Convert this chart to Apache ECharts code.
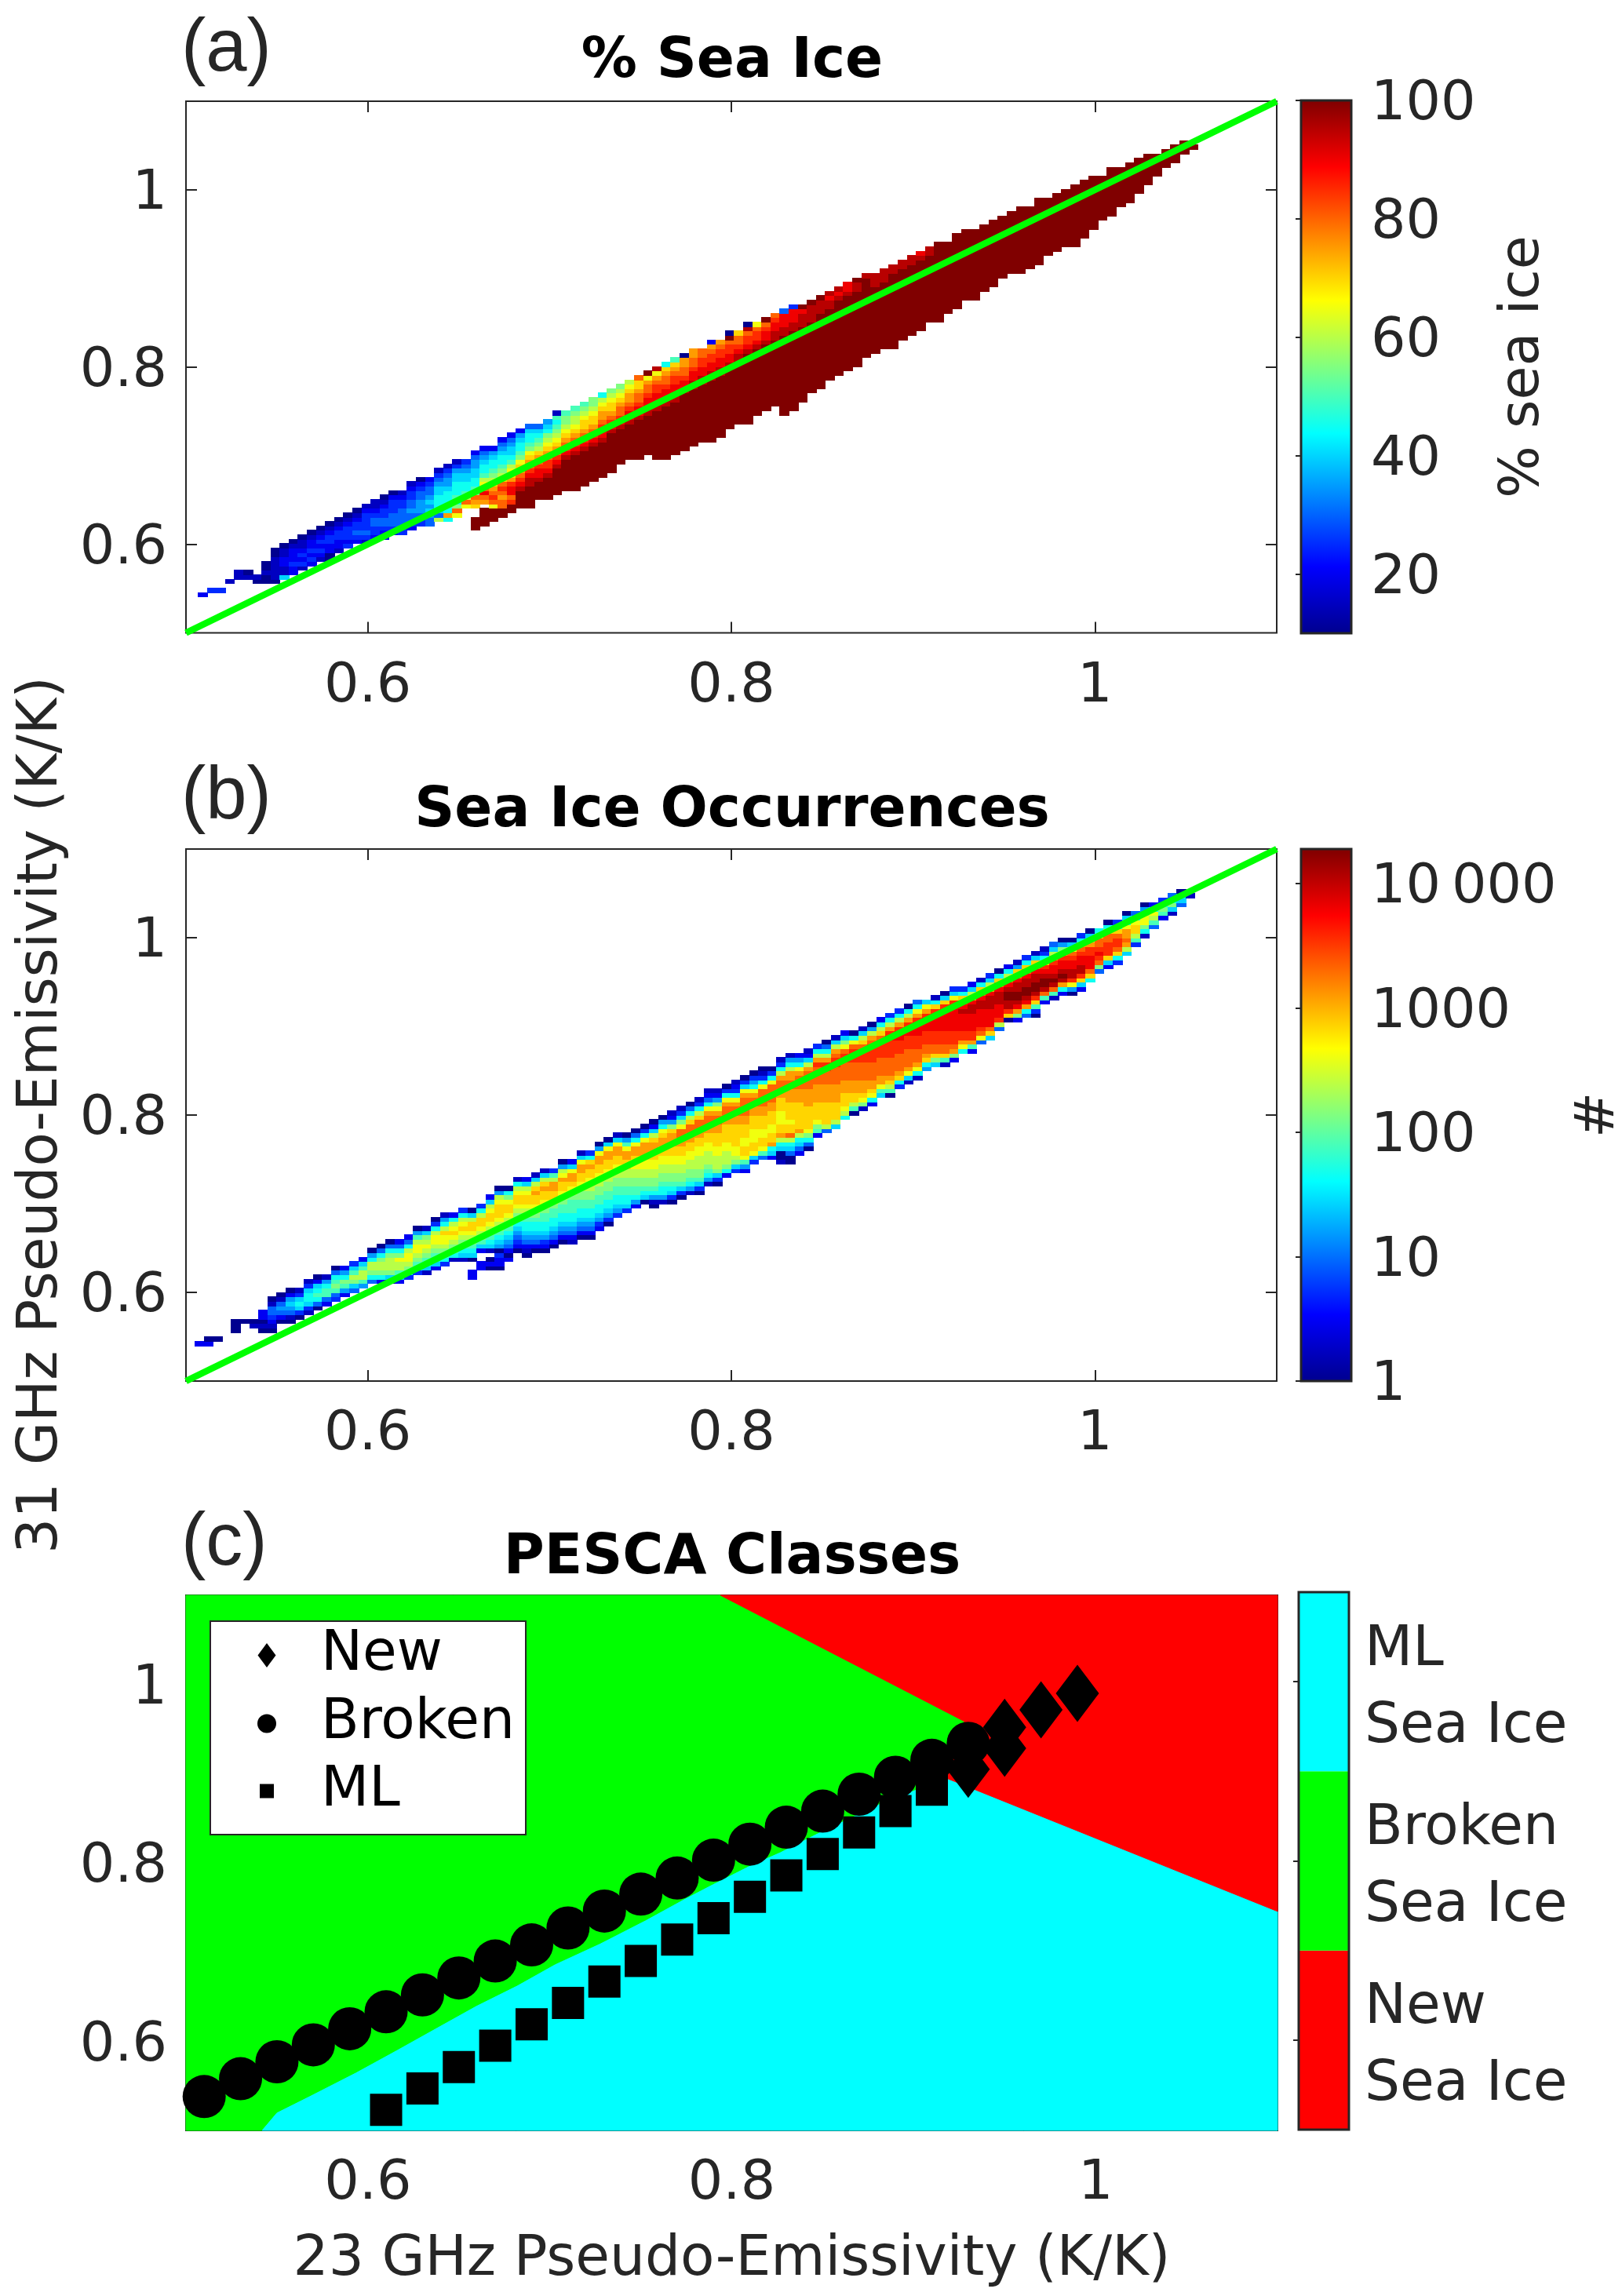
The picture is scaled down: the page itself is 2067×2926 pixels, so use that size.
<!DOCTYPE html>
<html><head><meta charset="utf-8">
<style>html,body{margin:0;padding:0;background:#fff}#chart{width:2067px;height:2926px}</style>
<script src="https://cdn.jsdelivr.net/npm/echarts@6/dist/echarts.min.js"></script>
</head><body><div id="chart"></div>
<script>
// Bin width of both 2-D histograms and their first bin edges
const binSize = 0.005;
const seaIceOrigin = [0.5067, 0.5406];
const occurOrigin = [0.5050, 0.5398];
const levelLetters = 'abcdefghijklmnopqrs';
// Panel (a): one entry per 23 GHz column: [first 31 GHz bin, colour level of each bin upward]
// letters a..s = 19 read colour levels of the colour bar; "." = empty; a number repeats the letter
const seaIceColumns = [
[0,"c"],[1,"d"],[1,"d"],[3,"b"],[4,"bb"],[4,"ba"],[3,"ab"],[3,"aabaa"],[3,"abbbbbaa"],[4,"gbbccbba"],
[5,"ccdcccba"],[6,"bdcdcbba"],[7,"cdcdccba"],[8,"bcdcdcba"],[8,"aaccddcba"],[10,"bccddcba"],[11,"dcdddcba"],[12,"cdeddcba"],[12,"bdeddddcb"],[13,"cddeedcbb"],
[13,"ccdeeddcba"],[14,"cdeeedddca"],[14,"ddeeeeddcb"],[15,"cdeefeeddcb"],[16,"ddefffeedca"],[16,"eefgfgfeedc"],[17,"keghhhggfedb"],[17,"hnhhhhhgffedb"],[18,"lojhihhhggfdb"],[20,"lokihhggfed"],
[15,"s3.2mnojihhggffec"],[16,"s4.noqolkihhgfec"],[17,"s3loponmkjihhgfc"],[18,"s2oonopomkjihhgfec"],[19,"s2poqqpnmlkihggfec"],[20,"s4rqponmljihhgfc"],[20,"s5rrqponmljihhge"],[22,"s4rqqponmkjihge"],[22,"s5rqpponmlkjhgf"],[23,"s6rqponmlkjihib"],
[24,"s7rqponmlkjji"],[24,"s8rqponmlkkji"],[25,"s8rqponmmlkji"],[26,"s8rqponmmlkjj"],[27,"s8rqqponnmlkh"],[28,"s9rqponmmlkj"],[30,"s8rqpoonmlkj"],[31,"s8rqqponnmlk"],[31,"s9rqqpoonmmo"],[32,"s9rrqqpoonls"],
[31,"s11rrqqpponlr"],[31,"s12rrqqpoonmh"],[32,"s12rrqqpponmi"],[33,"s13rqqpoonna"],[34,"s13rrqqpoonn"],[35,"s13rrqqppoo"],[35,"s14rrqqpponc"],[36,"s14rrqqppon"],[38,"s14rqqpposa"],[39,"s14rrqpoom"],
[39,"s16rqppora"],[41,"s15rqppol"],[42,"s15rqqpos"],[43,"s15rrqqpo"],[41,"s18rrqqqe"],[42,"s18rrqqqd"],[44,"s17rrrqs"],[46,"s16rrrrs"],[47,"s17rrrs"],[49,"s16rrqr"],
[50,"s17rqr"],[51,"s17rqq"],[52,"s17rrs"],[54,"s18r"],[55,"s15r3"],[56,"s15r3"],[56,"s17r2"],[58,"s16r2"],[59,"s16r2"],[60,"s16rq"],
[62,"s15r2"],[62,"s18"],[64,"s16"],[65,"s17"],[67,"s16"],[67,"s16"],[69,"s15"],[70,"s15"],[72,"s14"],[73,"s14"],
[73,"s15"],[74,"s14"],[75,"s15"],[77,"s13"],[78,"s13"],[79,"s13"],[79,"s14"],[81,"s13"],[83,"s12"],[85,"s10"],
[86,"s11"],[88,"s9"],[89,"s9"],[91,"s8"],[93,"s7"],[95,"s5"],[97,"s4"],[98,"s4"],[100,"s3"],[101,"s"]
];
// Panel (b): same layout, same 19 colour levels (on the log colour bar)
const occurColumns = [
[0,"c"],[0,"ca"],[1,"a"],[0,""],[3,"aaa"],[5,"a"],[4,"ba"],[3,"abacc"],[3,"abcdeeba"],[5,"acefeba"],
[5,"abefgfca"],[6,"adghgdb"],[7,"bdghhgdb"],[8,"aehihgca"],[9,"ceiihfb"],[10,"deijihea"],[11,"cfijhfc"],[12,"egjkigd"],[13,"fikkigc"],[14,"ehjkkhfa"],
[14,"chjkkjhea"],[14,"agjkkkjhea"],[14,"cgikkljhec"],[15,"dhjkllkhec"],[16,"dhijkllkifa"],[16,"bghijklkjgb"],[17,"cghijkllkhda"],[18,"dhijkllmkhfb"],[19,"bhijklmlkhc"],[19,"bghijklmlkhd"],
[15,"cc.2aghijklmmkga"],[17,"cc.2cgijklmmkhd"],[17,"aca.bghijklmmlkgc"],[17,"accdafghijklmmmlkfa"],[19,"cacefghijklmmljha"],[21,"acdefghijklmmlkhb"],[20,"abcefghhijklmmlkgc"],[21,"acefghhijklmmnmkgb"],[21,"acdfghhiijklmmnmkgb"],[22,"acefghhiijkmmnnkid"],
[23,"acefghhiijklmmnlkfa"],[23,"bcefghhiiijklmnnlgc"],[24,"acefghhiijjklmmnnlgb"],[24,"acefghhiijjkklmmnmhd"],[26,"cdfghhiijjkklmmnnlfa"],[27,"adfghhiijjkklmmnnlga"],[29,"dfghhiijjkklmmnnlgb"],[30,"dghhiijjkkmmnnlifa"],[31,"cfhiijjkkllmnnlhea"],[32,"aghijjkkllmnnnlhda"],
[31,"abfhijjkkllmmnnmkgca"],[32,"bfhhijjkkllmmnnmlhfa"],[32,"adghijjkkllmmnnnmjfcb"],[33,"adgijjkkllmmnnooljgdb"],[34,"bfhijjkkllmmnnoomkhea"],[34,"adgijjkkkllmmnnoomkhdb"],[36,"bfhijkkkllmmnnoonlhecb"],[36,"adgjkkkllmmmnnoonljfcb"],[38,"chjkkkllmmmmnnoonlhda"],[39,"dgjkllmmmmmnnoonlhdcb"],
[39,"cfilmmllmmmnnoooonlgda"],[41,"dglmmlllmmmnnoonlhfda"],[42,"eilmmllmmmnnoooolhdba"],[42,"cghnmmllmmmnnoooolhda"],[41,"baaghknmmlllmmmnnoonkhdb"],[41,"aaeghkommlmmmmnnnoonnkhfb"],[43,"ceghknmmmmmmnnnooonlhfc"],[44,"aehjlmmmmmnnnnoooonkgcb"],[47,"cijlmmmmnnnnoooopnkhd"],[48,"ekmmmmmnnnnoooppnkhea"],
[49,"gkmmmmnnnnoooopponkgb"],[51,"hklmmmnnnooooppoljgc"],[52,"aikmmnnnoooopppolha"],[53,"bjlmnnnoooopppomkgb"],[54,"chlmnnoooopppponkfa"],[56,"gilnnooooppppomkhc"],[56,"aikmnooooppppqpnkhd"],[58,"dhmnoooopppqqpnkhd"],[59,"bglnoooopppqqpnkha"],[60,"bhlnooopppqqqpnlhe"],
[62,"fhmnoopppqqqpnlg"],[63,"gjmoopppqqqqpmhb"],[63,"bimoopppqqqqqpmga"],[64,"cjnopppqqqqqqplgd"],[66,"hlnppqqqqrqpmhd"],[66,"cinppqqqqrrqnkgc"],[68,"elopqqqqrrqomhb"],[69,"gmoqqqqrrrqnkgd"],[71,"ekpqqqrrrqomha"],[73,"amprrssrqokhc"],
[73,"cjnqrssrrqomfb"],[74,"ehnqrssrrqomhd"],[74,"adimprssrrqomgb"],[77,"ciorssrqpmhdb"],[78,"biorsrqqpnkge"],[79,"chnrsrqqpnjfa"],[79,"aflprrqqpolga"],[80,"cgmprrqqponhd"],[82,"hmoqqqppnkga"],[84,"ejopqpoomh"],
[85,"cgmpppoomha"],[86,"dhmoppomhd"],[88,"gknonnlhga"],[90,"dikmmlhe"],[92,"bhjlljfa"],[94,"eiklhc"],[96,"cijhd"],[97,"bgjhe"],[99,"egha"],[101,"b"]
];
// Panel (c): class boundaries
const brokenMlEdge = [[0.5419,0.5],[0.55,0.5195],[0.5686,0.5385],[0.5935,0.5644],[0.6164,0.59],[0.6368,0.6132],[0.6595,0.639],[0.6822,0.662],[0.7029,0.6857],[0.7277,0.709],[0.7526,0.735],[0.7732,0.758],[0.7896,0.7754],[0.8103,0.7966],[0.8268,0.8115],[0.8474,0.8327],[0.8804,0.8647],[0.918,0.895]];
const brokenNewEdge = [[0.918,0.895],[0.928,0.9585],[0.7938,1.1]];
const newMlEdge = [[0.918,0.895],[1.1,0.7456]];
// Panel (c): class mean points
const newPoints = [[0.93,0.905],[0.95,0.9285],[0.95,0.952],[0.97,0.9716],[0.99,0.99]];
const brokenPoints = [[0.51,0.538],[0.53,0.558],[0.55,0.577],[0.57,0.596],[0.59,0.614],[0.61,0.633],[0.63,0.652],[0.65,0.671],[0.67,0.69],[0.69,0.708],[0.71,0.727],[0.73,0.746],[0.75,0.765],[0.77,0.783],[0.79,0.803],[0.81,0.821],[0.83,0.84],[0.85,0.858],[0.87,0.877],[0.89,0.896],[0.91,0.915],[0.93,0.934]];
const mlPoints = [[0.61,0.523],[0.63,0.547],[0.65,0.571],[0.67,0.595],[0.69,0.619],[0.71,0.643],[0.73,0.667],[0.75,0.69],[0.77,0.714],[0.79,0.738],[0.81,0.762],[0.83,0.786],[0.85,0.81],[0.87,0.834],[0.89,0.858],[0.91,0.882]];
const onetoone = [[0.5,0.5],[1.1,1.1]];
const axisTicks = [0.6,0.8,1];
const iceTicks = [20,40,60,80,100];
const countTicks = [1,10,100,1000,10000];
const countTickLabels = ['1','10','100','1000','10\u2009000'];
const classNames = ['New\nSea Ice','Broken\nSea Ice','ML\nSea Ice'];
const classColors = ['#ff0000','#00ff00','#00ffff'];
const iceRange = [10,100];
const countTop = 19000;
const jet = ['#00008f','#0000ff','#0080ff','#00ffff','#80ff80','#ffff00','#ff8000','#ff0000','#800000'];

const FONT='"DejaVu Sans"', TXT='#262626', FS=70;
const chart = echarts.init(document.getElementById('chart'), null, {renderer:'canvas'});

function decode(cols, origin, toValue){
  const out=[];
  cols.forEach((c,i)=>{
    let j=c[0];
    const re=/([a-s.])(\d*)/g; let m;
    while((m=re.exec(c[1]))){
      const n=m[2]?+m[2]:1;
      for(let k=0;k<n;k++,j++){
        if(m[1]!=='.') out.push([origin[0]+binSize*i, origin[1]+binSize*j, toValue(levelLetters.indexOf(m[1]))]);
      }
    }
  });
  return out;
}
const maxLog=Math.log10(countTop);
const seaIceCells=decode(seaIceColumns,seaIceOrigin,l=>iceRange[0]+l*(iceRange[1]-iceRange[0])/18);
const occurCells=decode(occurColumns,occurOrigin,l=>l*maxLog/18);

const cellItem=(params,api)=>{
  const x=api.value(0),y=api.value(1);
  const a=api.coord([x,y]),b=api.coord([x+binSize,y+binSize]);
  const X0=Math.floor(a[0]),X1=Math.ceil(b[0]),Y0=Math.floor(b[1]),Y1=Math.ceil(a[1]);
  return {type:'rect',shape:{x:X0,y:Y0,width:X1-X0,height:Y1-Y0},style:{fill:api.visual('color')}};
};
const polyItem=(pts,color)=>(params,api)=>{
  if(params.dataIndex!==0) return null;
  return {type:'polygon',shape:{points:pts.map(p=>api.coord(p))},style:{fill:color,stroke:color,lineWidth:1}};
};
const gradient=()=>new echarts.graphic.LinearGradient(0,1,0,0,jet.map((c,i)=>({offset:i/(jet.length-1),color:c})));
const barItem=(lo,hi)=>(params,api)=>{
  if(params.dataIndex!==0) return null;
  const a=api.coord([0,hi]),b=api.coord([1,lo]);
  return {type:'rect',shape:{x:a[0],y:a[1],width:b[0]-a[0],height:b[1]-a[1]},style:{fill:gradient()}};
};

const panels=[
 {left:237,top:129,width:1390,height:677.5},
 {left:237,top:1082,width:1390,height:678},
 {left:237,top:2033,width:1391,height:682}
];
const grid=panels.map(p=>({...p,show:true,backgroundColor:'transparent',borderColor:TXT,borderWidth:2,containLabel:false,outerBoundsMode:'none'}));
grid.push({left:1658,top:128,width:64,height:679,show:true,borderColor:TXT,borderWidth:3,z:5,outerBoundsMode:'none'});
grid.push({left:1658,top:1082,width:64,height:678,show:true,borderColor:TXT,borderWidth:3,z:5,outerBoundsMode:'none'});
grid.push({left:1655,top:2029,width:64,height:685,show:true,borderColor:TXT,borderWidth:3,z:5,outerBoundsMode:'none'});

const lab={fontFamily:FONT,fontSize:FS,color:TXT};
const labY={...lab,verticalAlign:'top',lineHeight:12};
const nameLab={fontFamily:FONT,fontSize:71,color:TXT};
const xAxis=[],yAxis=[];
const hx=i=>({gridIndex:i,type:'value',min:0,max:1,show:false});
[0,1,2].forEach(i=>{
  xAxis.push({gridIndex:i,type:'value',position:'bottom',min:0.5,max:1.1,axisLine:{show:false},splitLine:{show:false},
    axisTick:{show:true,inside:true,length:14,customValues:axisTicks,lineStyle:{color:TXT,width:2}},
    axisLabel:{show:true,customValues:axisTicks,margin:34,formatter:v=>String(v),...lab},
    ...(i===2?{name:'23 GHz Pseudo-Emissivity (K/K)',nameLocation:'middle',nameGap:130,nameTextStyle:nameLab}:{})});
});
[0,1,2].forEach(i=>{
  xAxis.push({gridIndex:i,type:'value',position:'top',min:0.5,max:1.1,axisLine:{show:false},splitLine:{show:false},
    axisTick:{show:true,inside:true,length:14,customValues:axisTicks,lineStyle:{color:TXT,width:2}},axisLabel:{show:false}});
});
[3,4,5].forEach(i=>xAxis.push(hx(i)));
[0,1,2].forEach(i=>{
  yAxis.push({gridIndex:i,type:'value',position:'left',min:0.5,max:1.1,axisLine:{show:false},splitLine:{show:false},
    axisTick:{show:true,inside:true,length:14,customValues:axisTicks,lineStyle:{color:TXT,width:2}},
    axisLabel:{show:true,customValues:axisTicks,margin:24,formatter:v=>String(v),...labY},
    ...(i===1?{name:'31 GHz Pseudo-Emissivity (K/K)',nameLocation:'middle',nameGap:148,nameRotate:90,nameTextStyle:nameLab}:{})});
});
[0,1,2].forEach(i=>{
  yAxis.push({gridIndex:i,type:'value',position:'right',min:0.5,max:1.1,axisLine:{show:false},splitLine:{show:false},
    axisTick:{show:true,inside:true,length:14,customValues:axisTicks,lineStyle:{color:TXT,width:2}},axisLabel:{show:false}});
});
const cbTick={show:true,inside:true,length:7,lineStyle:{color:TXT,width:2}};
const countLogs=countTicks.map(v=>Math.log10(v));
yAxis.push({gridIndex:3,type:'value',position:'right',min:iceRange[0],max:iceRange[1],z:6,axisLine:{show:false},splitLine:{show:false},
  axisTick:{...cbTick,customValues:iceTicks},axisLabel:{customValues:iceTicks,margin:25,formatter:v=>String(v),...labY},
  name:'% sea ice',nameLocation:'middle',nameGap:185,nameRotate:90,nameTextStyle:lab});
yAxis.push({gridIndex:4,type:'value',position:'right',min:0,max:maxLog,z:6,axisLine:{show:false},splitLine:{show:false},
  axisTick:{...cbTick,customValues:countLogs},axisLabel:{customValues:countLogs,margin:25,formatter:v=>countTickLabels[Math.round(v)],...labY},
  name:'#',nameLocation:'middle',nameGap:281,nameRotate:90,nameTextStyle:lab});
const classLabelAt=[0.46,1.46,2.46];
yAxis.push({gridIndex:5,type:'value',position:'right',min:0,max:3,z:6,axisLine:{show:false},splitLine:{show:false},
  axisTick:{...cbTick,customValues:[0.5,1.5,2.5]},axisLabel:{customValues:classLabelAt,margin:20,formatter:v=>classNames[Math.floor(v)],lineHeight:98,...nameLab}});

const cell=(name,data,g,z)=>({type:'custom',name,xAxisIndex:g,yAxisIndex:g,data,renderItem:cellItem,encode:{x:0,y:1},z:z,silent:true,animation:false});
const green=g=>({type:'line',xAxisIndex:g,yAxisIndex:g,data:onetoone,symbol:'none',clip:false,lineStyle:{color:'#00ff00',width:8.5},z:3,silent:true,animation:false});
const poly=(name,pts,color)=>({type:'custom',name,xAxisIndex:2,yAxisIndex:2,data:pts,renderItem:polyItem(pts,color),encode:{x:0,y:1},z:2,silent:true,animation:false});
const segs=[0,1,2].map(k=>({type:'custom',xAxisIndex:8,yAxisIndex:8,data:[[0,k]],
   renderItem:(params,api)=>{const a=api.coord([0,k+1]),b=api.coord([1,k]);return {type:'rect',shape:{x:a[0],y:a[1],width:b[0]-a[0],height:b[1]-a[1]},style:{fill:classColors[k]}};},z:2,silent:true,animation:false}));

const greenPoly=[[0.5,0.5],...brokenMlEdge,...brokenNewEdge.slice(1),[0.5,1.1]];
const cyanPoly=[...brokenMlEdge,newMlEdge[1],[1.1,0.5]];
const redOrdered=[...brokenNewEdge.slice().reverse(),newMlEdge[1],[1.1,1.1]];

const scat=(name,symbol,size,data)=>({type:'scatter',name,xAxisIndex:2,yAxisIndex:2,data,symbol,symbolSize:size,itemStyle:{color:'#000',opacity:1},z:2,silent:true,animation:false});

const legendItem=(name,icon,w,h,cy)=>({show:true,data:[name],icon,itemWidth:w,itemHeight:h,selectedMode:false,padding:0,
   left:340-w/2,top:cy-41,z:5,textStyle:{fontFamily:FONT,fontSize:71,color:'#000',padding:[12,0,0,409-(340+w/2)-5]}});

const titles=(t,cx,cy)=>({text:t,left:cx,top:cy-41,textAlign:'center',textStyle:{fontFamily:FONT,fontSize:71,fontWeight:'bold',color:'#000'}});
const tag=(t,cy)=>({text:t,left:226,top:cy-54,textStyle:{fontFamily:'"Liberation Sans"',fontSize:94,fontWeight:'normal',color:TXT}});

chart.setOption({
  animation:false,backgroundColor:'#fff',
  title:[titles('% Sea Ice',928,80),titles('Sea Ice Occurrences',928,1035),titles('PESCA Classes',928,1987),tag('(a)',66),tag('(b)',1019),tag('(c)',1970)],
  grid,xAxis,yAxis,
  visualMap:[
    {show:false,seriesIndex:0,dimension:2,min:iceRange[0],max:iceRange[1],inRange:{color:jet}},
    {show:false,seriesIndex:2,dimension:2,min:0,max:maxLog,inRange:{color:jet}}
  ],
  legend:[legendItem('New','diamond',23,31,2115),legendItem('Broken','circle',24,24,2202),legendItem('ML','rect',18,18,2288)],
  graphic:[{type:'rect',shape:{x:268,y:2066,width:402,height:272},style:{fill:'#fff',stroke:TXT,lineWidth:2},z:3,silent:true}],
  series:[
    cell('% sea ice',seaIceCells,0,2),green(0),
    cell('occurrences',occurCells,1,2),green(1),
    poly('Broken region',greenPoly,'#00ff00'),poly('ML region',cyanPoly,'#00ffff'),poly('New region',redOrdered,'#ff0000'),
    scat('ML','rect',41,mlPoints),scat('New','diamond',[55,73],newPoints),scat('Broken','circle',55,brokenPoints),
    {type:'custom',xAxisIndex:6,yAxisIndex:6,data:[[0,0]],renderItem:barItem(iceRange[0],iceRange[1]),z:2,silent:true,animation:false},
    {type:'custom',xAxisIndex:7,yAxisIndex:7,data:[[0,0]],renderItem:barItem(0,maxLog),z:2,silent:true,animation:false},
    ...segs
  ]
});
</script></body></html>
